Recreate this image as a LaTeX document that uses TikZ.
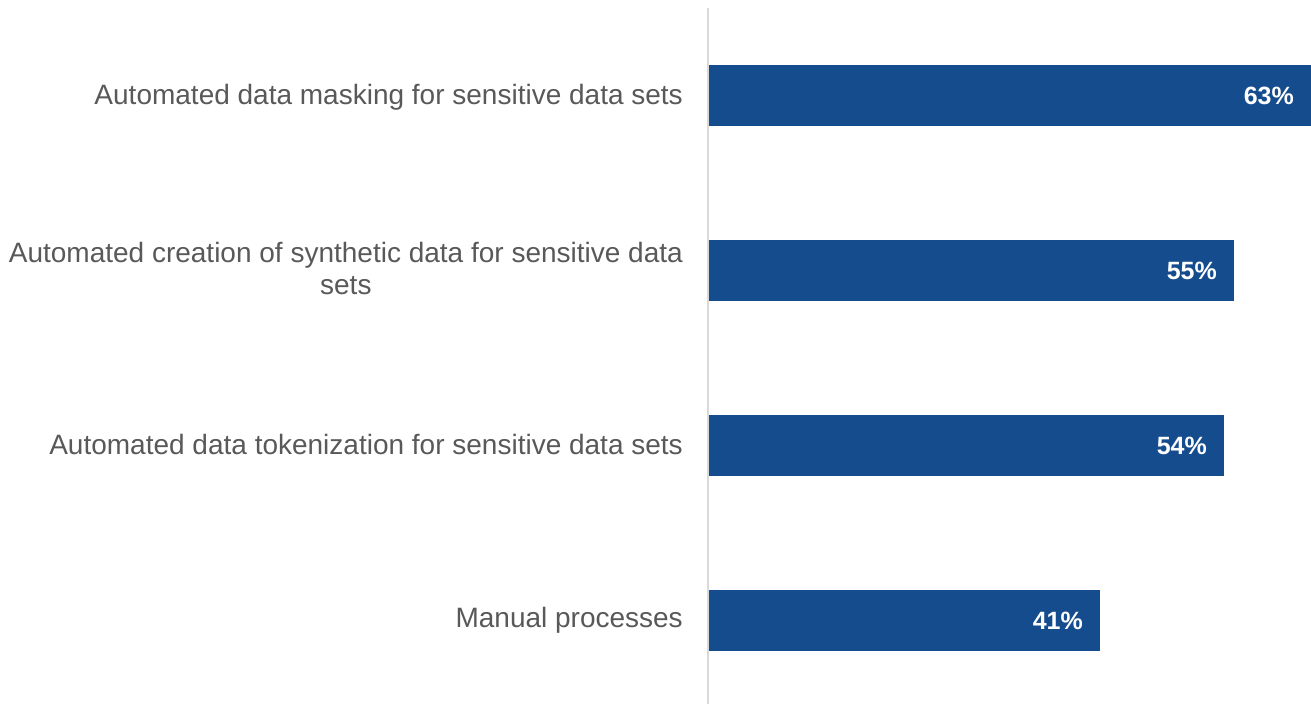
\documentclass[tikz,border=0pt]{standalone}
\usepackage{fontspec}
\setmainfont{Liberation Sans}
\definecolor{barblue}{RGB}{21,76,141}
\definecolor{labelgray}{RGB}{89,89,89}
\definecolor{axisgray}{RGB}{217,217,217}
\begin{document}
\begin{tikzpicture}[x=1pt,y=-1pt,
  bar/.style={fill=barblue,draw=none},
  catlabel/.style={anchor=base east,align=center,text=labelgray,font=\fontsize{28}{32}\selectfont,inner sep=0pt},
  vallabel/.style={anchor=base east,text=white,font=\fontsize{25}{28}\selectfont\bfseries,inner sep=0pt}]
\useasboundingbox (0,0) rectangle (1311,704);
\fill[white] (0,0) rectangle (1311,704);
% bars
\path[bar] (708,64.5) rectangle (1311,126) coordinate (b1);
\path[bar] (708,239.5) rectangle (1234,301) coordinate (b2);
\path[bar] (708,414.5) rectangle (1224,476) coordinate (b3);
\path[bar] (708,589.5) rectangle (1100,651) coordinate (b4);
% axis
\coordinate (axtop) at (708,8);
\coordinate (axbot) at (708,704);
\draw[axisgray,line width=2pt] (axtop) -- (axbot);
% value labels
\node[vallabel] (v1) at (1294,104.3) {63\%};
\node[vallabel] (v2) at (1217,279.3) {55\%};
\node[vallabel] (v3) at (1207,454.3) {54\%};
\node[vallabel] (v4) at (1083,629.3) {41\%};
% category labels
\node[catlabel] (c1) at (683,104.3) {Automated data masking for sensitive data sets};
\node[catlabel] (c2) at (683,294.3) {Automated creation of synthetic data for sensitive data\\sets};
\node[catlabel] (c3) at (683,454.3) {Automated data tokenization for sensitive data sets};
\node[catlabel] (c4) at (683,627.3) {Manual processes};
\end{tikzpicture}
\end{document}
